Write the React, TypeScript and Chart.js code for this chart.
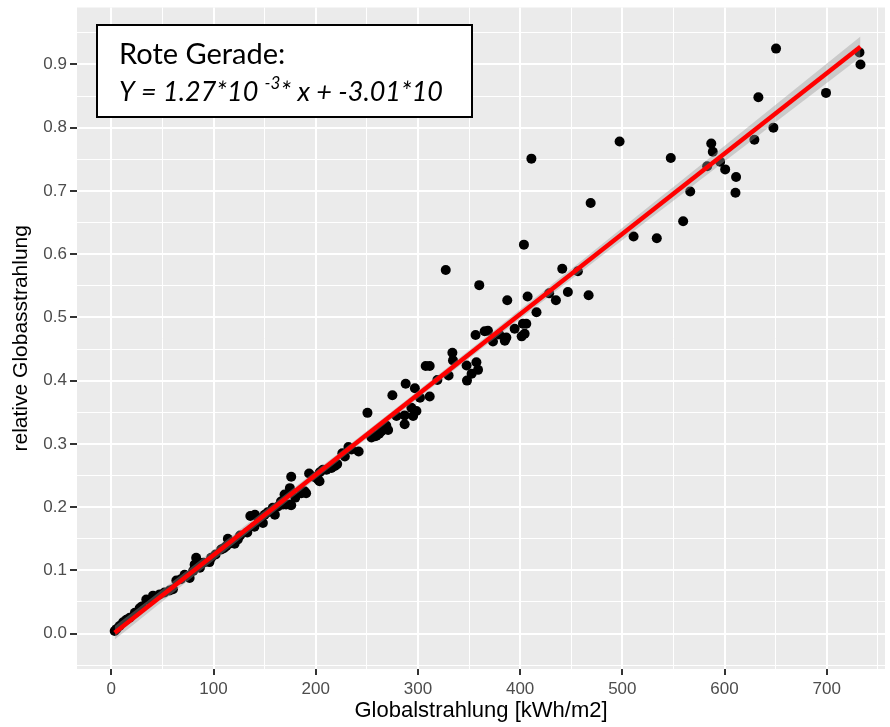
import React, { useEffect, useRef } from "react";
import { Chart, registerables } from "chart.js";

Chart.register(...registerables);

// ---- data ----
const globalstrahlung: number[] = [
  3.3, 5, 8, 11.5, 14.7, 18, 23, 27.7, 30, 34.2, 38, 40.8, 47.3, 52, 57, 60.3, 63.6, 68, 71.7, 76.6,
  80, 81.5, 83, 86.7, 90, 96, 97.7, 102, 107.5, 110, 112.4, 114, 117, 120.6, 123.8, 126, 133, 136, 140, 140.5,
  144, 148.3, 150, 153, 158, 160, 163, 166, 168, 169.5, 171, 174.4, 174.7, 176, 176, 180, 186, 189, 190.6, 193.5,
  198, 202, 203.7, 204, 207, 210.5, 215.4, 218.7, 221, 226, 228.5, 232, 235, 242, 250.6, 254.5, 258, 259.4, 262, 264.3,
  267.5, 269, 270.8, 275, 279, 287, 287, 288, 293.6, 295.3, 297, 298.5, 302, 307.6, 311.5, 311.5, 319, 327.2, 330, 333.7,
  334.3, 347.6, 348, 352.5, 356.4, 357.2, 358.8, 360, 365.3, 368.5, 373.4, 379.5, 385, 386.5, 387.4, 394.6, 401.5, 403.7, 404.4, 402.7,
  406, 407.3, 411, 416, 428.4, 435, 441.2, 446.7, 456.5, 467, 469, 497.3, 511, 533.7, 547.4, 559.5, 566.4, 583, 587, 588.5,
  595.7, 600.6, 610.7, 611.3, 629.2, 633.1, 647.8, 650.4, 699.3, 732, 733,
];
const relativeGlobalstrahlung: number[] = [
  0.004, 0.007, 0.012, 0.018, 0.022, 0.025, 0.033, 0.04, 0.043, 0.054, 0.052, 0.06, 0.062, 0.065, 0.068, 0.07, 0.084, 0.086, 0.093, 0.088,
  0.099, 0.109, 0.12, 0.104, 0.112, 0.113, 0.12, 0.125, 0.133, 0.135, 0.138, 0.15, 0.143, 0.142, 0.149, 0.155, 0.16, 0.186, 0.169, 0.188,
  0.182, 0.175, 0.188, 0.192, 0.199, 0.188, 0.201, 0.209, 0.204, 0.22, 0.204, 0.204, 0.23, 0.248, 0.203, 0.215, 0.222, 0.225, 0.222, 0.253,
  0.248, 0.244, 0.241, 0.255, 0.259, 0.259, 0.262, 0.265, 0.268, 0.285, 0.28, 0.295, 0.291, 0.288, 0.349, 0.31, 0.312, 0.313, 0.316, 0.32,
  0.328, 0.329, 0.322, 0.377, 0.344, 0.331, 0.345, 0.395, 0.357, 0.344, 0.388, 0.352, 0.373, 0.423, 0.423, 0.375, 0.401, 0.575, 0.408, 0.444,
  0.432, 0.424, 0.4, 0.411, 0.472, 0.429, 0.417, 0.551, 0.478, 0.479, 0.462, 0.473, 0.463, 0.468, 0.527, 0.482, 0.47, 0.615, 0.474, 0.49,
  0.49, 0.533, 0.751, 0.508, 0.538, 0.527, 0.577, 0.54, 0.573, 0.535, 0.681, 0.778, 0.628, 0.625, 0.752, 0.652, 0.699, 0.739, 0.775, 0.762,
  0.746, 0.734, 0.697, 0.722, 0.781, 0.848, 0.8, 0.925, 0.855, 0.919, 0.9,
];

// regression given in the annotation box
const slope = 1.27e-3;
const intercept = -3.01e-3;

const xMajorTicks = [0, 100, 200, 300, 400, 500, 600, 700];
const yMajorTicks = [0.0, 0.1, 0.2, 0.3, 0.4, 0.5, 0.6, 0.7, 0.8, 0.9];

const xTitle = "Globalstrahlung [kWh/m2]";
const yTitle = "relative Globasstrahlung";
const noteLine1 = "Rote Gerade:";
const noteLine2a = "Y = 1.27*10";
const noteSup = "-3";
const noteLine2b = "* x + -3.01*10";

function buildFit() {
  const n = globalstrahlung.length;
  const mean = globalstrahlung.reduce((a, b) => a + b, 0) / n;
  let sxx = 0;
  let sse = 0;
  globalstrahlung.forEach((x, i) => {
    sxx += (x - mean) ** 2;
    const r = relativeGlobalstrahlung[i] - (intercept + slope * x);
    sse += r * r;
  });
  const s = Math.sqrt(sse / (n - 2));
  const t = 1.975;
  const xmin = Math.min(...globalstrahlung);
  const xmax = Math.max(...globalstrahlung);
  const steps = 60;
  const upper: { x: number; y: number }[] = [];
  const lower: { x: number; y: number }[] = [];
  for (let k = 0; k <= steps; k++) {
    const x = xmin + ((xmax - xmin) * k) / steps;
    const yhat = intercept + slope * x;
    const se = s * Math.sqrt(1 / n + (x - mean) ** 2 / sxx);
    upper.push({ x, y: yhat + t * se });
    lower.push({ x, y: yhat - t * se });
  }
  const line = [
    { x: xmin, y: intercept + slope * xmin },
    { x: xmax, y: intercept + slope * xmax },
  ];
  return { upper, lower, line };
}

const isMajor = (v: number, majors: number[]) => majors.some((m) => Math.abs(m - v) < 1e-6);

const panelBackground = {
  id: "panelBackground",
  beforeDraw(chart: any) {
    const { ctx, chartArea } = chart;
    ctx.save();
    ctx.fillStyle = "#EBEBEB";
    ctx.fillRect(chartArea.left, chartArea.top, chartArea.right - chartArea.left, chartArea.bottom - chartArea.top);
    ctx.restore();
  },
};

const noteBox = {
  id: "noteBox",
  afterDraw(chart: any) {
    const ctx = chart.ctx as CanvasRenderingContext2D;
    ctx.save();
    ctx.fillStyle = "#FFFFFF";
    ctx.fillRect(97, 25, 375, 92);
    ctx.strokeStyle = "#000000";
    ctx.lineWidth = 2;
    ctx.strokeRect(97, 25, 375, 92);
    ctx.fillStyle = "#000000";
    ctx.textBaseline = "alphabetic";
    ctx.textAlign = "left";
    ctx.font = "29px Lato";
    ctx.fillText(noteLine1, 119, 64);
    ctx.font = "italic 27px Lato";
    let x = 119;
    ctx.fillText(noteLine2a, x, 101);
    x += ctx.measureText(noteLine2a + " ").width;
    ctx.font = "italic 17px Lato";
    ctx.fillText(noteSup, x, 89);
    x += ctx.measureText(noteSup).width;
    ctx.font = "italic 27px Lato";
    ctx.fillText(noteLine2b, x, 101);
    ctx.restore();
  },
};

export default function App() {
  const canvasRef = useRef<HTMLCanvasElement | null>(null);

  useEffect(() => {
    if (!canvasRef.current) return;
    const fit = buildFit();
    const points = globalstrahlung.map((x, i) => ({ x, y: relativeGlobalstrahlung[i] }));

    const chart = new Chart(canvasRef.current, {
      type: "scatter",
      data: {
        datasets: [
          {
            type: "line",
            data: fit.line,
            borderColor: "#FF0000",
            borderWidth: 4.5,
            pointRadius: 0,
            fill: false,
            order: 1,
          } as any,
          {
            type: "line",
            data: fit.upper,
            borderWidth: 0,
            borderColor: "rgba(0,0,0,0)",
            backgroundColor: "rgba(153,153,153,0.4)",
            pointRadius: 0,
            fill: "+1",
            order: 2,
          } as any,
          {
            type: "line",
            data: fit.lower,
            borderWidth: 0,
            borderColor: "rgba(0,0,0,0)",
            pointRadius: 0,
            fill: false,
            order: 2,
          } as any,
          {
            type: "scatter",
            data: points,
            backgroundColor: "#000000",
            borderColor: "#000000",
            borderWidth: 0,
            pointRadius: 5,
            order: 3,
          } as any,
        ],
      },
      options: {
        animation: false,
        responsive: true,
        maintainAspectRatio: false,
        events: [],
        layout: { padding: { top: 7.5, right: 0, left: 0, bottom: 0 } },
        plugins: { legend: { display: false }, tooltip: { enabled: false } },
        scales: {
          x: {
            type: "linear",
            min: -33.6,
            max: 757,
            border: { display: false },
            afterFit: (scale: any) => {
              scale.height = 58;
              scale.paddingLeft = 0;
              scale.paddingRight = 0;
            },
            grid: {
              color: "#FFFFFF",
              lineWidth: (c: any) => (isMajor(c.tick.value, xMajorTicks) ? 2 : 1),
              tickColor: (c: any) => (isMajor(c.tick.value, xMajorTicks) ? "#333333" : "rgba(0,0,0,0)"),
              tickLength: 6,
              tickWidth: 2,
            },
            ticks: {
              stepSize: 50,
              includeBounds: false,
              autoSkip: false,
              maxRotation: 0,
              padding: 4,
              color: "#4D4D4D",
              font: { family: "'Liberation Sans', Arial, sans-serif", size: 17 },
              callback: (v: any) => (isMajor(Number(v), xMajorTicks) ? String(Math.round(Number(v))) : ""),
            },
            title: {
              display: true,
              text: xTitle,
              color: "#000000",
              font: { family: "'Liberation Sans', Arial, sans-serif", size: 22 },
              padding: { top: 0, bottom: 3 },
            },
          },
          y: {
            type: "linear",
            min: -0.056,
            max: 0.99,
            border: { display: false },
            afterFit: (scale: any) => {
              scale.width = 77;
              scale.paddingTop = 0;
              scale.paddingBottom = 0;
            },
            grid: {
              color: "#FFFFFF",
              lineWidth: (c: any) => (isMajor(c.tick.value, yMajorTicks) ? 2 : 1),
              tickColor: (c: any) => (isMajor(c.tick.value, yMajorTicks) ? "#333333" : "rgba(0,0,0,0)"),
              tickLength: 7,
              tickWidth: 2,
            },
            ticks: {
              stepSize: 0.05,
              includeBounds: false,
              autoSkip: false,
              padding: 3,
              color: "#4D4D4D",
              font: { family: "'Liberation Sans', Arial, sans-serif", size: 17 },
              callback: (v: any) => (isMajor(Number(v), yMajorTicks) ? Number(v).toFixed(1) : ""),
            },
            title: {
              display: true,
              text: yTitle,
              color: "#000000",
              font: { family: "'Liberation Sans', Arial, sans-serif", size: 21 },
              padding: { top: 9, bottom: 0 },
            },
          },
        },
      },
      plugins: [panelBackground, noteBox],
    });
    return () => chart.destroy();
  }, []);

  return (
    <div style={{ position: "fixed", left: 0, top: 0, width: 890, height: 727, background: "#FFFFFF" }}>
      <canvas ref={canvasRef} />
    </div>
  );
}
